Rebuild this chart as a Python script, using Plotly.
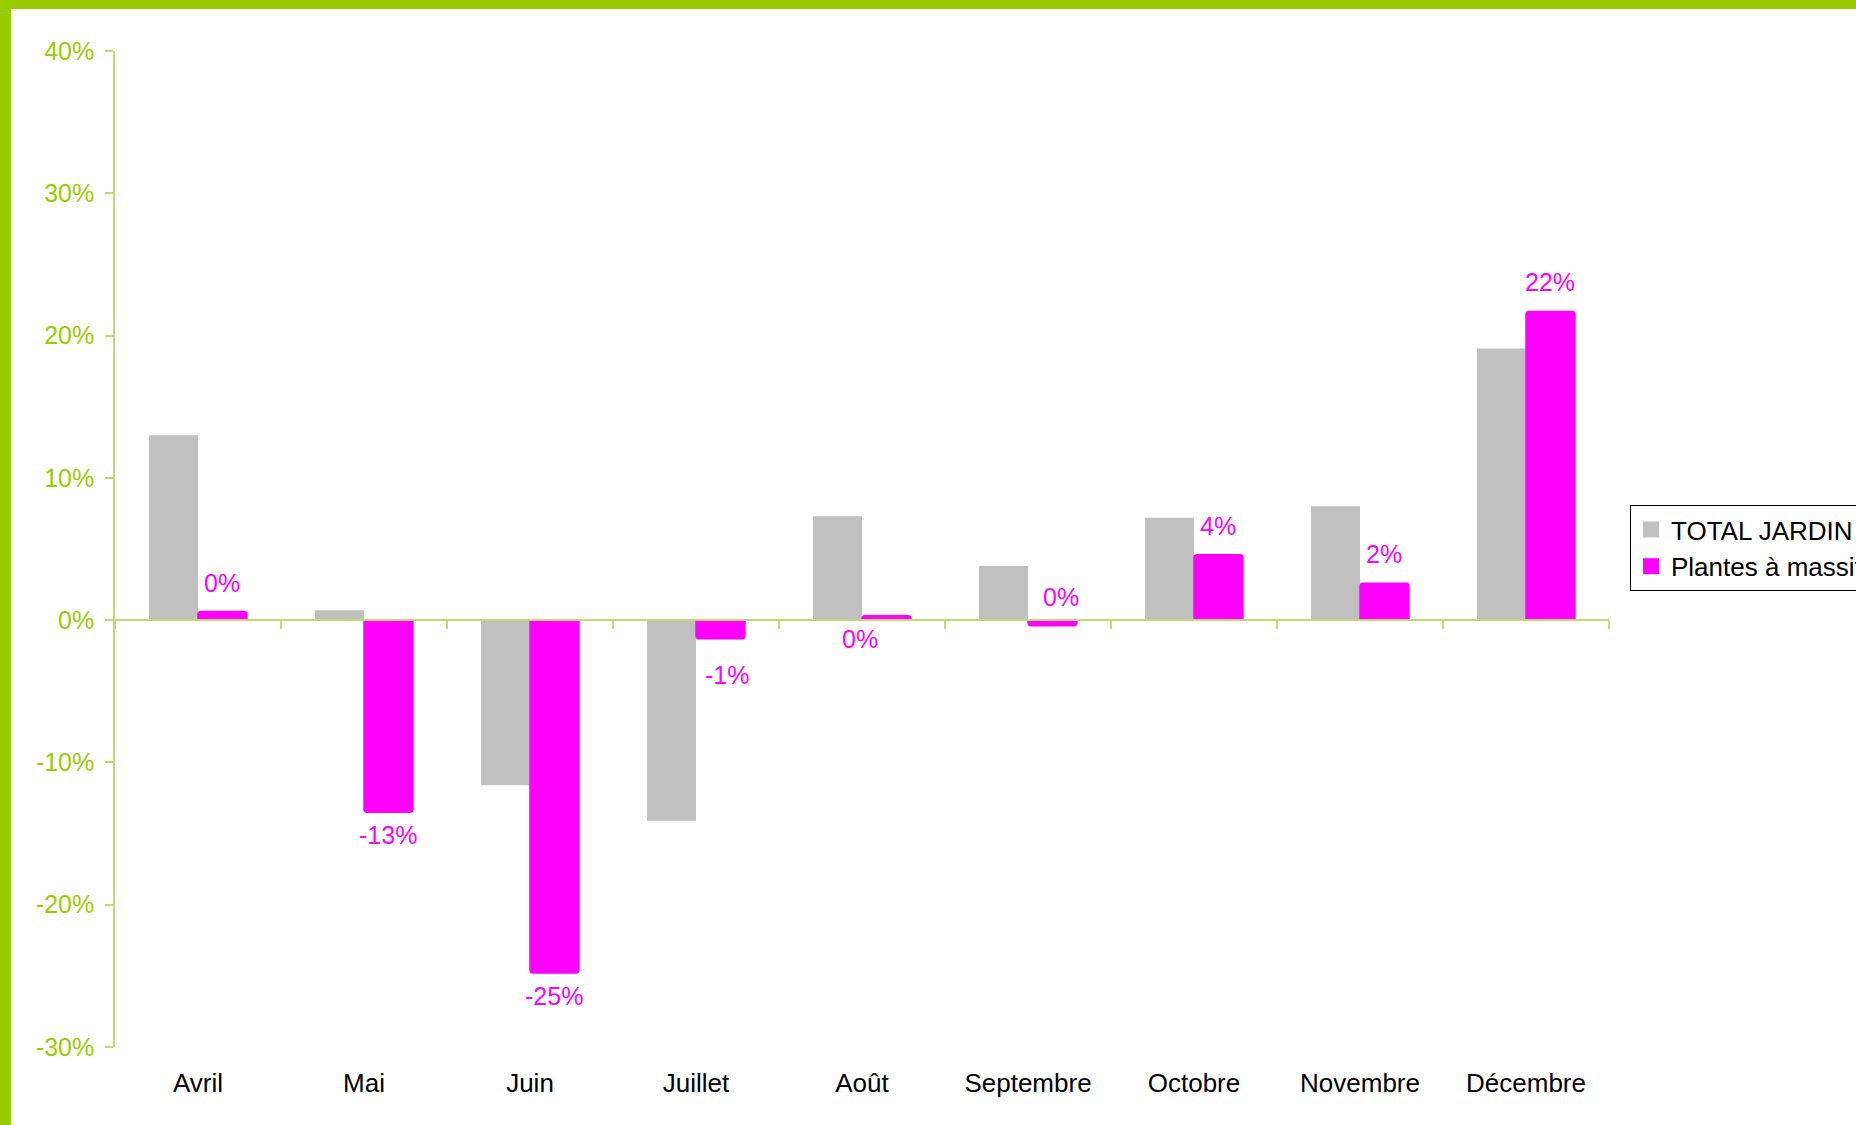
import plotly.graph_objects as go

months = ["Avril", "Mai", "Juin", "Juillet", "Août", "Septembre", "Octobre", "Novembre", "Décembre"]
total_jardin = [13.0, 0.7, -11.6, -14.1, 7.3, 3.8, 7.2, 8.0, 19.1]
plantes_massif = [0.6, -13.5, -24.8, -1.3, 0.3, -0.4, 4.6, 2.6, 21.7]
plantes_labels = ["0%", "-13%", "-25%", "-1%", "0%", "0%", "4%", "2%", "22%"]
label_side = ["above", "below", "below", "below", "below", "above", "above", "above", "above"]
y_ticks = [-30, -20, -10, 0, 10, 20, 30, 40]
y_tick_text = [f"{v}%" for v in y_ticks]

# per-label nudges (pixels) to mimic the original label placement
label_dx = [0, 0, 0, 7, -26, 9, 0, 0, 0]
label_dy = [0, 0, 0, -13, 0, 0, 0, 0, 0]

GREEN = "#99CC00"
AXIS_GREEN = "#BCDB73"
GRAY = "#C0C0C0"
MAGENTA = "#FF00FF"
FONT = "Liberation Sans, Arial, sans-serif"

W, H = 1856, 1125
L, R, T, B = 115, 247, 51, 78
PW, PH = W - L - R, H - T - B
YMIN, YMAX = -30, 40

fig = go.Figure()
fig.add_trace(go.Bar(
    x=months, y=total_jardin, name="TOTAL JARDIN", showlegend=False,
    marker=dict(color=GRAY, line=dict(width=0)),
))
fig.add_trace(go.Bar(
    x=months, y=plantes_massif, name="Plantes à massif", showlegend=False,
    marker=dict(color=MAGENTA, line=dict(color=MAGENTA, width=1.5), cornerradius=3),
))
# legend entries with larger square symbols
fig.add_trace(go.Scatter(
    x=[None], y=[None], mode="markers", name="TOTAL JARDIN",
    marker=dict(symbol="square", size=16, color=GRAY),
))
fig.add_trace(go.Scatter(
    x=[None], y=[None], mode="markers", name="Plantes à massif",
    marker=dict(symbol="square", size=16, color=MAGENTA),
))

# data labels
for m, v, t, side, dx, dy in zip(months, plantes_massif, plantes_labels, label_side, label_dx, label_dy):
    fig.add_annotation(
        x=m, y=v, text=t, showarrow=False, xref="x", yref="y",
        xshift=24 + dx, yshift=(13 if side == "above" else -7) + dy,
        yanchor="bottom" if side == "above" else "top",
        font=dict(family=FONT, size=25, color=MAGENTA),
    )

def px_to_paper_x(px):
    return (px - L) / PW

def px_to_paper_y(py):
    return (H - B - py) / PH

# green frame (top and left)
fig.add_shape(type="rect", xref="paper", yref="paper",
              x0=px_to_paper_x(-2), x1=px_to_paper_x(W + 2), y0=px_to_paper_y(9), y1=px_to_paper_y(-2),
              fillcolor=GREEN, line=dict(width=0), layer="above")
fig.add_shape(type="rect", xref="paper", yref="paper",
              x0=px_to_paper_x(-2), x1=px_to_paper_x(11), y0=px_to_paper_y(H + 2), y1=px_to_paper_y(-2),
              fillcolor=GREEN, line=dict(width=0), layer="above")

fig.update_layout(
    width=W, height=H,
    margin=dict(l=L, r=R, t=T, b=B, autoexpand=False),
    paper_bgcolor="white", plot_bgcolor="white",
    barmode="group", bargap=0.41, bargroupgap=0,
    font=dict(family=FONT, size=26, color="black"),
    showlegend=True,
    legend=dict(
        x=px_to_paper_x(1630), y=px_to_paper_y(505), xanchor="left", yanchor="top",
        bgcolor="white", bordercolor="black", borderwidth=1,
        font=dict(family=FONT, size=26, color="black"),
        itemsizing="trace", itemwidth=30,
    ),
    xaxis=dict(
        type="category", anchor="free", position=(0 - YMIN) / (YMAX - YMIN),
        showline=True, linecolor=AXIS_GREEN, linewidth=1.5,
        ticks="outside", tickson="boundaries", ticklen=8, tickcolor=AXIS_GREEN, tickwidth=1.5,
        showgrid=False, zeroline=False,
        ticklabelstandoff=440,
        tickfont=dict(family=FONT, size=26, color="black"),
    ),
    yaxis=dict(
        range=[YMIN, YMAX], tickvals=y_ticks, ticktext=y_tick_text,
        showline=True, linecolor=AXIS_GREEN, linewidth=1.5,
        ticks="outside", ticklen=8, tickcolor=AXIS_GREEN, tickwidth=1.5,
        showgrid=False, zeroline=False,
        tickfont=dict(family=FONT, size=25, color=GREEN),
        ticklabelstandoff=6,
    ),
)

fig.write_html(
    "out.html",
    config={"displayModeBar": False},
    post_script="document.body.style.margin='0';document.body.style.overflow='hidden';",
)
